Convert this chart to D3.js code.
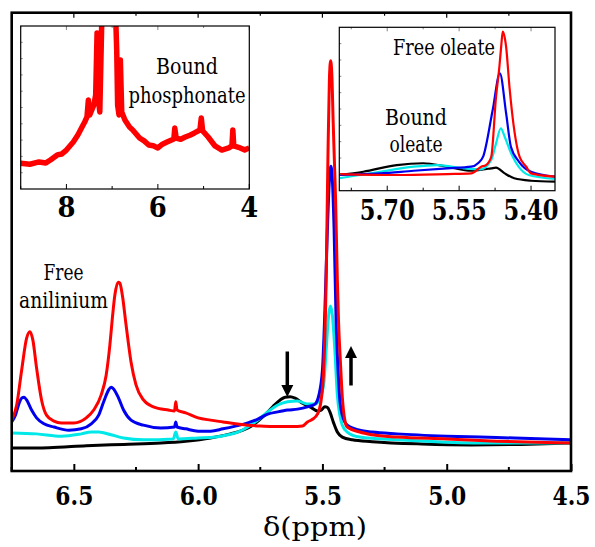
<!DOCTYPE html>
<html>
<head>
<meta charset="utf-8">
<script src="https://cdn.jsdelivr.net/npm/d3@7"></script>
<style>
  html, body { margin: 0; padding: 0; background: #fff; }
  svg { display: block; }
</style>
</head>
<body>
<svg id="chart" width="595" height="547"></svg>
<script>
// ---- 1H NMR spectra, olefinic / aromatic region: [δ ppm, intensity (a.u.)] ----
const mainBlack = [[6.75,5.0],[6.6,5.1],[6.45,5.5],[6.3,5.8],[6.15,6.1],[6.05,6.5],[5.95,7.2],[5.87,8.1],[5.82,8.9],[5.78,10.0],[5.74,11.8],[5.70,14.0],[5.67,15.5],[5.65,16.1],[5.63,16.2],[5.61,15.9],[5.58,14.8],[5.55,14.0],[5.52,13.1],[5.505,13.3],[5.49,14.0],[5.48,13.9],[5.47,12.9],[5.455,10.5],[5.44,8.5],[5.42,7.4],[5.38,6.8],[5.30,6.4],[5.1,5.9],[4.9,5.7],[4.7,5.8],[4.5,6.1]];
const mainCyan = [[6.75,8.3],[6.65,8.1],[6.55,7.6],[6.47,8.1],[6.43,8.5],[6.40,8.5],[6.35,7.9],[6.30,7.2],[6.22,6.8],[6.10,7.0],[6.09,8.5],[6.08,7.0],[6.0,7.2],[5.93,7.4],[5.88,7.9],[5.84,8.5],[5.80,9.6],[5.76,11.1],[5.72,12.9],[5.68,14.4],[5.64,15.1],[5.60,15.3],[5.56,14.6],[5.53,14.6],[5.51,15.9],[5.495,18.8],[5.485,26.4],[5.475,34.0],[5.468,36.0],[5.46,34.0],[5.45,26.4],[5.44,16.6],[5.43,12.2],[5.42,10.0],[5.40,8.5],[5.35,7.4],[5.2,6.8],[5.0,6.3],[4.8,6.1],[4.5,6.1]];
const mainBlue = [[6.75,10.7],[6.735,12.2],[6.72,14.8],[6.71,15.9],[6.70,16.1],[6.69,15.5],[6.67,13.3],[6.65,11.6],[6.62,10.3],[6.58,9.6],[6.52,8.9],[6.47,9.2],[6.43,10.3],[6.40,12.2],[6.38,15.1],[6.36,17.7],[6.35,18.3],[6.34,17.9],[6.32,15.9],[6.30,13.3],[6.27,11.1],[6.22,10.0],[6.15,9.4],[6.095,9.6],[6.09,10.7],[6.085,9.6],[6.05,9.2],[6.0,8.7],[5.95,8.7],[5.90,9.2],[5.85,9.8],[5.80,10.5],[5.76,11.3],[5.72,12.4],[5.68,12.9],[5.64,13.3],[5.60,13.5],[5.56,14.0],[5.53,14.6],[5.515,16.4],[5.50,22.0],[5.49,35.1],[5.48,52.6],[5.472,63.5],[5.466,66.5],[5.46,63.5],[5.453,52.6],[5.445,32.9],[5.437,22.0],[5.43,15.5],[5.42,12.2],[5.40,10.0],[5.35,8.9],[5.30,8.5],[5.2,8.1],[5.0,7.6],[4.8,7.3],[4.6,7.0],[4.5,6.8]];
const mainRed = [[6.75,11.1],[6.73,14.4],[6.71,22.0],[6.69,29.0],[6.677,30.4],[6.665,28.6],[6.65,22.5],[6.63,15.5],[6.61,12.2],[6.58,10.9],[6.55,10.5],[6.50,10.5],[6.45,11.6],[6.42,13.3],[6.39,16.6],[6.37,20.9],[6.355,27.5],[6.345,33.4],[6.335,38.4],[6.322,41.2],[6.315,41.0],[6.305,38.4],[6.29,31.9],[6.27,23.8],[6.25,18.8],[6.22,15.5],[6.18,14.0],[6.12,13.3],[6.095,13.1],[6.09,15.1],[6.085,13.3],[6.05,12.7],[6.0,11.6],[5.95,11.1],[5.90,10.7],[5.85,10.3],[5.80,10.0],[5.75,9.8],[5.70,9.7],[5.65,9.7],[5.60,9.7],[5.58,9.8],[5.56,10.7],[5.54,11.3],[5.52,12.4],[5.505,15.5],[5.495,22.0],[5.485,41.7],[5.478,67.9],[5.472,85.3],[5.467,89.5],[5.462,86.4],[5.457,76.6],[5.452,67.9],[5.447,59.1],[5.44,41.7],[5.435,32.3],[5.428,24.2],[5.42,16.1],[5.41,11.1],[5.40,9.6],[5.35,8.5],[5.3,7.9],[5.2,7.4],[5.0,7.0],[4.8,6.5],[4.6,6.2],[4.5,6.1]];

// ---- inset: full aromatic range of the ligand-exchanged sample ----
const phosRed = [[9.0,15.8],[8.8,15.2],[8.6,16.6],[8.45,16.0],[8.35,17.8],[8.2,20.9],[8.1,21.5],[8.0,23.9],[7.85,28.8],[7.75,33.1],[7.65,38.5],[7.6,41.1],[7.55,44.2],[7.52,54.6],[7.49,45.4],[7.40,51.5],[7.36,57.7],[7.33,95.7],[7.30,55.2],[7.27,47.2],[7.23,98.8],[7.20,130],[7.00,140],[6.95,130],[6.90,85.3],[6.88,51.5],[6.85,45.4],[6.82,79.1],[6.79,47.2],[6.72,42.3],[6.62,38.0],[6.55,36.2],[6.40,31.3],[6.30,29.5],[6.20,27.0],[6.10,26.5],[6.00,25.2],[5.90,27.5],[5.80,28.8],[5.65,30.7],[5.63,37.4],[5.60,31.3],[5.50,30.5],[5.40,31.9],[5.30,33.0],[5.20,34.4],[5.08,36.2],[5.05,43.6],[5.02,35.6],[4.90,31.9],[4.75,26.4],[4.60,23.9],[4.45,25.2],[4.38,26.4],[4.36,36.2],[4.34,26.4],[4.2,25.2],[4.1,24.0],[4.0,25.2]];

// ---- inset: zoom on the oleate vinyl protons ----
const oleBlack = [[5.80,9.6],[5.75,11.6],[5.68,15.7],[5.625,16.8],[5.575,14.7],[5.525,12.2],[5.50,13.0],[5.483,13.7],[5.473,14.1],[5.455,10.6],[5.435,7.6],[5.40,6.1],[5.35,5.5]];
const oleCyan = [[5.80,7.6],[5.715,11.6],[5.645,14.7],[5.595,15.7],[5.54,13.7],[5.505,13.1],[5.483,18.8],[5.473,29.0],[5.463,38.2],[5.455,33.0],[5.44,21.8],[5.426,14.7],[5.405,9.6],[5.35,7.2]];
const oleBlue = [[5.80,9.6],[5.715,10.6],[5.645,12.2],[5.575,13.7],[5.525,14.7],[5.51,17.0],[5.50,20.8],[5.48,49.4],[5.465,71.8],[5.452,47.4],[5.442,26.9],[5.425,17.7],[5.40,11.6],[5.35,8.6]];
const oleRed = [[5.80,10.2],[5.68,9.6],[5.575,10.2],[5.525,10.6],[5.504,14.7],[5.494,15.7],[5.483,20.8],[5.473,57.5],[5.466,75.9],[5.462,89.2],[5.459,97.3],[5.454,92.2],[5.452,88.1],[5.445,63.6],[5.434,35.1],[5.424,20.8],[5.41,14.7],[5.40,10.6],[5.35,8.6]];

// ---- tick values ----
const mainTicks = [6.5, 6.0, 5.5, 5.0, 4.5];
const mainMinorTicks = [6.75, 6.25, 5.75, 5.25, 4.75];
const phosTicks = [8, 6, 4];
const phosMinorTicks = [9, 7, 5];
const oleTicks = [5.70, 5.55, 5.40];
const oleMinorTicks = [5.775, 5.625, 5.475];

const COL = { black: "#000000", cyan: "#00e8e8", blue: "#0000ee", red: "#ff0000" };
const FONT = "DejaVu Serif";

const svg = d3.select("#chart").attr("font-family", FONT);

// text helper: serif label squeezed to a given advance width
function label(parent, t, px, py, size, width, bold) {
  return parent.append("text").attr("x", px).attr("y", py)
    .attr("text-anchor", "middle").attr("font-family", FONT)
    .attr("font-size", size).attr("font-weight", bold ? "bold" : "normal")
    .attr("fill", "#000")
    .attr("textLength", width).attr("lengthAdjust", "spacingAndGlyphs")
    .text(t);
}

// ---------------- main panel ----------------
const M = { left: 11.7, right: 571, top: 12.7, bottom: 471 };
const x = d3.scaleLinear().domain([6.75, 4.5]).range([M.left, M.right]);
const y = d3.scaleLinear().domain([0, 100]).range([M.bottom, M.top]);

svg.append("clipPath").attr("id", "clipMain")
  .append("rect").attr("x", M.left).attr("y", M.top)
  .attr("width", M.right - M.left).attr("height", M.bottom - M.top);

const lineMain = d3.line().x(d => x(d[0])).y(d => y(d[1])).curve(d3.curveMonotoneX);
const gMain = svg.append("g").attr("clip-path", "url(#clipMain)");
[[mainBlack, COL.black], [mainCyan, COL.cyan], [mainBlue, COL.blue], [mainRed, COL.red]].forEach(([data, c]) => {
  gMain.append("path").datum(data).attr("d", lineMain)
    .attr("fill", "none").attr("stroke", c).attr("stroke-width", 3)
    .attr("stroke-linejoin", "round");
});

// bottom axis (ticks pointing inward)
const axB = svg.append("g").attr("transform", `translate(0,${M.bottom})`)
  .call(d3.axisBottom(x).tickValues(mainTicks).tickSizeInner(-7).tickSizeOuter(0).tickFormat(d3.format(".1f")));
axB.select(".domain").remove();
axB.attr("font-family", FONT);
axB.selectAll(".tick line").attr("stroke", "#000").attr("stroke-width", 2);
axB.selectAll(".tick text").attr("font-size", 26.5).attr("y", 33.5).attr("dy", null)
  .attr("font-weight", "bold").attr("fill", "#000")
  .attr("textLength", 38).attr("lengthAdjust", "spacingAndGlyphs");
svg.append("g").selectAll("line").data(mainMinorTicks).join("line")
  .attr("x1", d => x(d)).attr("x2", d => x(d))
  .attr("y1", M.bottom).attr("y2", M.bottom - 4)
  .attr("stroke", "#000").attr("stroke-width", 2);
// mirrored top ticks
svg.append("g").selectAll("line").data(mainTicks.concat(mainMinorTicks)).join("line")
  .attr("x1", d => x(d)).attr("x2", d => x(d))
  .attr("y1", M.top).attr("y2", d => M.top + (mainTicks.includes(d) ? 5 : 3))
  .attr("stroke", "#000").attr("stroke-width", 1.2);

svg.append("rect").attr("x", M.left).attr("y", M.top)
  .attr("width", M.right - M.left).attr("height", M.bottom - M.top)
  .attr("fill", "none").attr("stroke", "#000").attr("stroke-width", 2.6);

label(svg, "δ(ppm)", 315, 536, 26, 104, false);

// annotations
label(svg, "Free", 63.5, 280, 21.5, 40, false);
label(svg, "anilinium", 63.5, 308, 21.5, 89, false);

function arrow(px, yTail, yTip) {
  const dir = yTip > yTail ? 1 : -1;
  const head = 12;
  svg.append("line").attr("x1", px).attr("x2", px)
    .attr("y1", yTail).attr("y2", yTip - dir * head)
    .attr("stroke", "#000").attr("stroke-width", 3.5);
  svg.append("path")
    .attr("d", `M${px - 6},${yTip - dir * head} L${px + 6},${yTip - dir * head} L${px},${yTip} Z`)
    .attr("fill", "#000");
}
arrow(287.3, 351.5, 397);
arrow(351, 385.5, 346);

// ---------------- insets ----------------
function inset(cfg) {
  const xs = d3.scaleLinear().domain(cfg.xDomain).range([cfg.l, cfg.r]);
  const ys = d3.scaleLinear().domain([0, 100]).range([cfg.b, cfg.t]);
  const g = svg.append("g");
  g.append("rect").attr("x", cfg.l).attr("y", cfg.t)
    .attr("width", cfg.r - cfg.l).attr("height", cfg.b - cfg.t).attr("fill", "#fff");
  g.append("clipPath").attr("id", cfg.id)
    .append("rect").attr("x", cfg.l).attr("y", cfg.t)
    .attr("width", cfg.r - cfg.l).attr("height", cfg.b - cfg.t);
  const line = d3.line().x(d => xs(d[0])).y(d => ys(d[1])).curve(cfg.curve || d3.curveMonotoneX);
  const gl = g.append("g").attr("clip-path", `url(#${cfg.id})`);
  cfg.series.forEach(([data, c]) => {
    gl.append("path").datum(data).attr("d", line)
      .attr("fill", "none").attr("stroke", c).attr("stroke-width", cfg.sw)
      .attr("stroke-linejoin", "round");
  });
  const all = cfg.ticks.concat(cfg.minor);
  g.selectAll(".tb").data(all).join("line")
    .attr("x1", d => xs(d)).attr("x2", d => xs(d))
    .attr("y1", cfg.b).attr("y2", d => cfg.b - (cfg.ticks.includes(d) ? 5 : 3))
    .attr("stroke", "#000").attr("stroke-width", 1);
  g.selectAll(".tt").data(all).join("line")
    .attr("x1", d => xs(d)).attr("x2", d => xs(d))
    .attr("y1", cfg.t).attr("y2", d => cfg.t + (cfg.ticks.includes(d) ? 4 : 2))
    .attr("stroke", "#666").attr("stroke-width", 0.8);
  g.selectAll(".tl").data(d3.range(10, 100, 10)).join("line")
    .attr("x1", cfg.l).attr("x2", cfg.l + 2)
    .attr("y1", d => ys(d)).attr("y2", d => ys(d))
    .attr("stroke", "#666").attr("stroke-width", 0.8);
  g.append("rect").attr("x", cfg.l).attr("y", cfg.t)
    .attr("width", cfg.r - cfg.l).attr("height", cfg.b - cfg.t)
    .attr("fill", "none").attr("stroke", "#000").attr("stroke-width", 1.2);
  cfg.ticks.forEach(d => label(g, cfg.fmt(d), xs(d), cfg.labelY, 28, cfg.labelW, true));
  cfg.notes.forEach(n => label(g, n.text, n.x, n.y, 21.5, n.w, false));
}

inset({
  id: "clipPhos", xDomain: [9, 4], l: 20.7, r: 249.3, t: 26, b: 189,
  series: [[phosRed, COL.red]], sw: 5.5, curve: d3.curveLinear,
  ticks: phosTicks, minor: phosMinorTicks, labelY: 216.5, labelW: 18, fmt: d3.format("d"),
  notes: [{ x: 187, y: 74, text: "Bound", w: 62 }, { x: 187, y: 103, text: "phosphonate", w: 117 }]
});

inset({
  id: "clipOle", xDomain: [5.80, 5.35], l: 339.3, r: 555, t: 27.3, b: 190.7,
  series: [[oleBlack, COL.black], [oleCyan, COL.cyan], [oleBlue, COL.blue], [oleRed, COL.red]], sw: 2.2,
  ticks: oleTicks, minor: oleMinorTicks, labelY: 220, labelW: 55, fmt: d3.format(".2f"),
  notes: [{ x: 444, y: 54.5, text: "Free oleate", w: 102 }, { x: 416, y: 125, text: "Bound", w: 62 }, { x: 416, y: 152, text: "oleate", w: 53 }]
});
</script>
</body>
</html>
